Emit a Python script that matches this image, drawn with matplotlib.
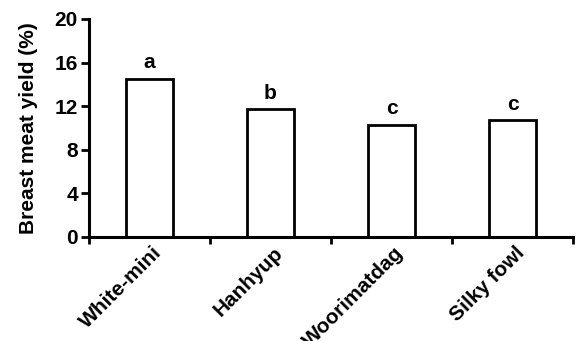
import matplotlib
matplotlib.use("Agg")
import matplotlib.pyplot as plt
import numpy as np

categories = ["White-mini", "Hanhyup", "Woorimatdag", "Silky fowl"]
values = [14.5, 11.7, 10.3, 10.7]
letters = ["a", "b", "c", "c"]
yticks = [0, 4, 8, 12, 16, 20]

plt.rcParams['font.family'] = ['Liberation Sans', 'DejaVu Sans']
plt.rcParams['font.weight'] = 'bold'

FS = 15

fig = plt.figure(figsize=(5.77, 3.41), dpi=100)
ax = fig.add_axes([89/577, 104/341, (573-89)/577, (322-104)/341])

x = np.arange(len(categories))
ax.bar(x, values, width=0.39, color='white', edgecolor='black', linewidth=2.0, zorder=2)
for xi, v, l in zip(x, values, letters):
    ax.text(xi, v + 0.6, l, ha='center', va='bottom', fontsize=FS, fontweight='bold')

ax.set_xlim(-0.5, len(categories) - 0.5)
ax.set_ylim(0, 20)
ax.set_yticks(yticks)
ax.set_yticklabels([str(t) for t in yticks], fontsize=FS, fontweight='bold')
ax.set_ylabel("Breast meat yield (%)", fontsize=FS, fontweight='bold', labelpad=12)

ax.set_xticks(np.arange(len(categories) + 1) - 0.5)
ax.set_xticklabels([])
ax.tick_params(axis='x', length=5, width=2)
ax.tick_params(axis='y', length=6, width=2, pad=2)

for xi, c in zip(x, categories):
    ax.text(xi + 0.02, -0.55, c, rotation=45, ha='right', va='top',
            rotation_mode='anchor', fontsize=FS, fontweight='bold')

for s in ['top', 'right']:
    ax.spines[s].set_visible(False)
for s in ['left', 'bottom']:
    ax.spines[s].set_linewidth(2.2)

fig.savefig("out.png", dpi=100)
